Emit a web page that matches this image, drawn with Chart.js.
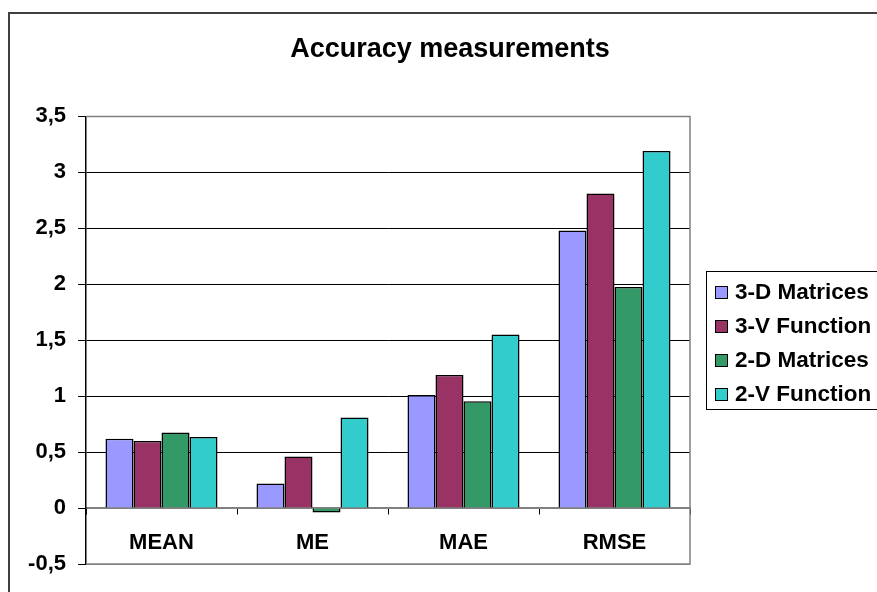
<!DOCTYPE html>
<html>
<head>
<meta charset="utf-8">
<script src="https://cdn.jsdelivr.net/npm/chart.js@4"></script>
<style>
  body { margin: 0; background: #fff; }
  canvas { display: block; }
</style>
</head>
<body>
<canvas id="chart" width="877" height="592"></canvas>
<script>
const categories = ["MEAN", "ME", "MAE", "RMSE"];
const seriesNames = ["3-D Matrices", "3-V Function", "2-D Matrices", "2-V Function"];
const seriesColors = ["#9999FF", "#993366", "#339966", "#33CCCC"];
const matrices3D = [0.62, 0.22, 1.01, 2.48];
const function3V = [0.60, 0.46, 1.19, 2.81];
const matrices2D = [0.675, -0.04, 0.955, 1.975];
const function2V = [0.635, 0.81, 1.55, 3.19];
const yTicks = [-0.5, 0, 0.5, 1, 1.5, 2, 2.5, 3, 3.5];

const FONT = "'Liberation Sans', Arial, sans-serif";
const seriesValues = [matrices3D, function3V, matrices2D, function2V];

// frames and the boxed legend on the right
const framePlugin = {
    id: "frames",
    beforeDraw(c) {
        const ctx = c.ctx;
        ctx.save();
        ctx.strokeStyle = "#404040";
        ctx.lineWidth = 2;
        ctx.strokeRect(9, 13, 1000, 1000);
        ctx.restore();
    },
    beforeDatasetsDraw(c) {
        const a = c.chartArea;
        const ctx = c.ctx;
        ctx.save();
        ctx.strokeStyle = "#808080";
        ctx.lineWidth = 1.5;
        ctx.beginPath();
        ctx.moveTo(a.left, a.top);
        ctx.lineTo(a.right, a.top);
        ctx.lineTo(a.right, a.bottom);
        ctx.lineTo(a.left, a.bottom);
        ctx.stroke();
        ctx.restore();
    },
    afterDraw(c) {
        const ctx = c.ctx;
        const x0 = 706, y0 = 271, rowH = 34;
        ctx.save();
        ctx.fillStyle = "#fff";
        ctx.fillRect(x0, y0, 300, 138);
        ctx.strokeStyle = "#000";
        ctx.lineWidth = 1;
        ctx.strokeRect(x0 + 0.5, y0 + 0.5, 300, 138);
        ctx.font = "bold 22.5px " + FONT;
        ctx.textBaseline = "middle";
        c.data.datasets.forEach((ds, i) => {
            const cy = y0 + 21 + i * rowH;
            ctx.fillStyle = ds.backgroundColor;
            ctx.fillRect(715, cy - 6, 12, 12);
            ctx.strokeRect(715.5, cy - 5.5, 12, 12);
            ctx.fillStyle = "#000";
            ctx.fillText(ds.label, 735, cy + 1);
        });
        ctx.restore();
    }
};

new Chart(document.getElementById("chart"), {
    type: "bar",
    data: {
        labels: categories,
        datasets: seriesNames.map((name, i) => ({
            label: name,
            data: seriesValues[i],
            backgroundColor: seriesColors[i],
            borderColor: "#000",
            borderWidth: 1.5,
            barPercentage: 1,
            categoryPercentage: 0.742,
        })),
    },
    options: {
        responsive: false,
        animation: false,
        layout: { padding: { left: 23, right: 0, top: 0, bottom: 28 } },
        plugins: {
            legend: { display: false },
            tooltip: { enabled: false },
            title: {
                display: true,
                text: "Accuracy measurements",
                color: "#000",
                font: { family: FONT, size: 27, weight: "bold" },
                padding: { top: 33, bottom: 51 },
            },
        },
        scales: {
            x: {
                position: { y: 0 },
                offset: true,
                grid: {
                    offset: true,
                    drawOnChartArea: false,
                    drawTicks: true,
                    tickLength: 6,
                    color: "#000",
                },
                border: { color: "#808080", width: 1.5 },
                ticks: {
                    color: "#000",
                    padding: 16,
                    font: { family: FONT, size: 22, weight: "bold" },
                },
            },
            y: {
                min: -0.5,
                max: 3.5,
                afterBuildTicks: s => { s.ticks = yTicks.map(v => ({ value: v })); },
                afterFit: s => { s.width = 63; },
                grid: {
                    color: t => (t.tick && [3.5, 0, -0.5].includes(t.tick.value)) ? "#808080" : "#000",
                    tickColor: "#000",
                    tickLength: 8,
                    lineWidth: 1,
                },
                border: { color: "#000", width: 1.5 },
                ticks: {
                    color: "#000",
                    padding: 12,
                    font: { family: FONT, size: 22, weight: "bold" },
                    callback: v => String(v).replace(".", ","),
                },
            },
            spacer: {
                type: "linear",
                position: "right",
                display: true,
                grid: { display: false },
                border: { display: false },
                ticks: { display: false },
                afterFit: s => { s.width = 187; },
            },
        },
    },
    plugins: [framePlugin],
});
</script>
</body>
</html>
